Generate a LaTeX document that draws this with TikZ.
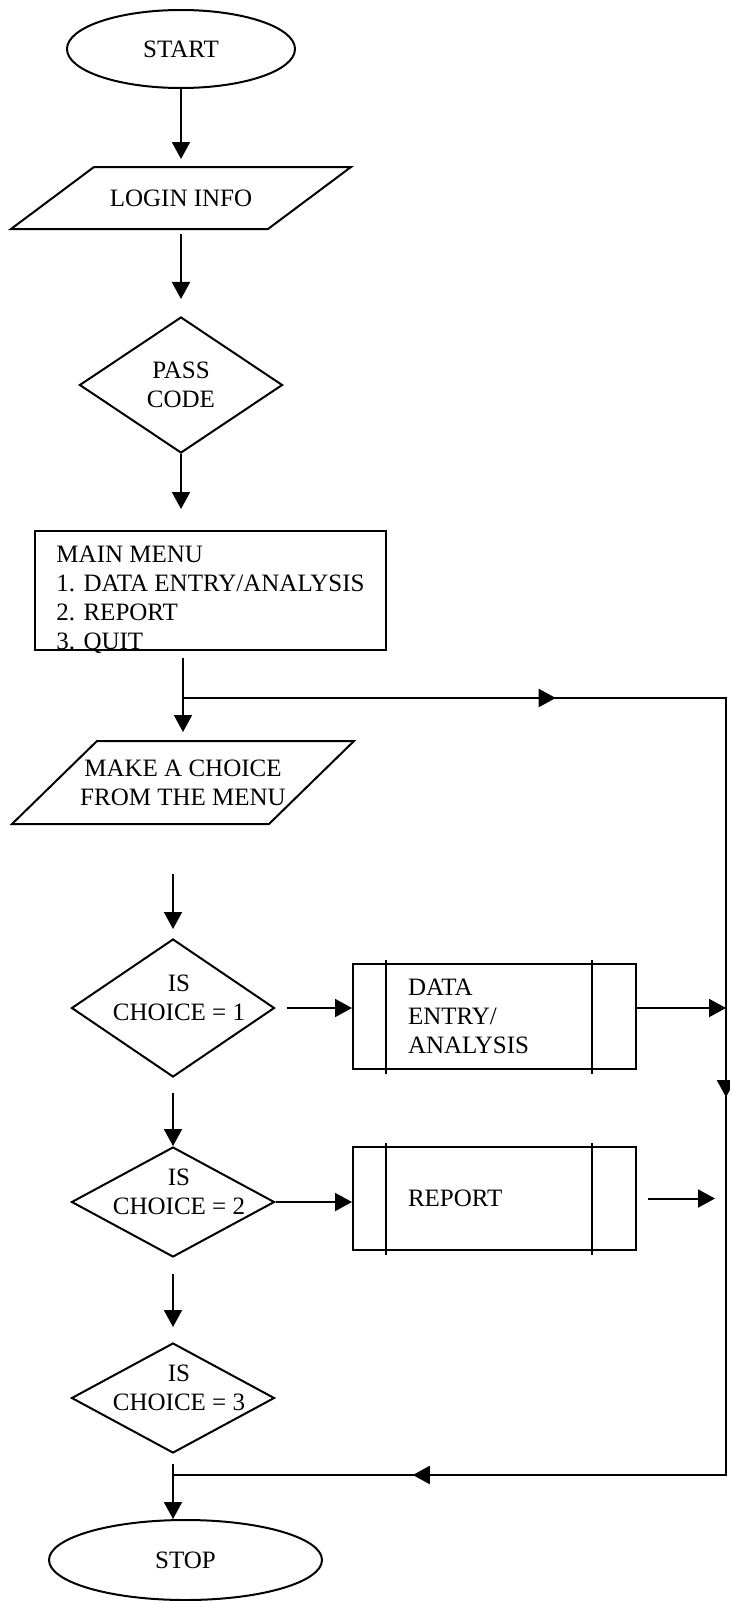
\documentclass[tikz,border=0pt]{standalone}
\usepackage{fontspec}
\setmainfont{Liberation Serif}
\usetikzlibrary{
	arrows.meta,shapes,decorations.markings
}
\tikzset{
	terminal/.style={ellipse,draw,inner sep=0pt},
	inout/.style={rectangle,inner sep=0pt,align=center,minimum width=255pt},
	decision/.style={diamond,draw,inner sep=0pt,align=center,minimum width=203pt},
	qtext/.style={align=center,yshift=10pt,xshift=6pt},
	proc/.style={rectangle,draw,inner sep=0pt},
	subproc/.style={rectangle,draw,align=left,inner xsep=0pt,text width=173pt,minimum width=283pt},
	flow/.style={-{Triangle[width=18pt,length=17pt]}},
	busarrows/.style={postaction={decorate},decoration={markings,
		mark=at position 0.199 with {\arrow{Triangle[width=18pt,length=17pt]}},
		mark=at position 0.503 with {\arrow{Triangle[width=18pt,length=17pt]}},
		mark=at position 0.872 with {\arrow{Triangle[width=18pt,length=17pt]}}}}
}

\begin{document}
\begin{tikzpicture}[x=1pt,y=-1pt,line width=2pt,
	every node/.style={font=\fontsize{25}{29}\selectfont}]
	\useasboundingbox (0,0) rectangle (729,1601);
	% nodes
	\node[terminal,minimum width=228pt,minimum height=78pt] (start) at (181,49) {START};
	\node[inout,minimum height=60pt] (login) at (181,198) {LOGIN INFO};
	\node[decision,minimum height=136pt] (pass) at (181,385) {PASS\\CODE};
	\node[proc,minimum width=351pt,minimum height=119pt,
		label={[align=left,yshift=-9pt]center:MAIN MENU\\1. DATA ENTRY/ANALYSIS\\2. REPORT\\3. QUIT}]
		(menu) at (210.5,590.5) {};
	\node[inout,minimum height=81pt] (choice) at (183,782.5) {MAKE A CHOICE\\FROM THE MENU};
	\node[decision,minimum height=138pt,label={[qtext]center:IS\\CHOICE = 1}] (q1) at (173,1008) {};
	\node[decision,minimum height=110pt,label={[qtext]center:IS\\CHOICE = 2}] (q2) at (173,1202) {};
	\node[decision,minimum height=110pt,label={[qtext]center:IS\\CHOICE = 3}] (q3) at (173,1398) {};
	\node[subproc,minimum height=105pt] (data) at (494.5,1016.5) {DATA\\ENTRY/\\ANALYSIS};
	\node[subproc,minimum height=103pt] (report) at (494.5,1198.5) {REPORT};
	\node[terminal,minimum width=273pt,minimum height=80pt] (stop) at (185.5,1560) {STOP};
	%
	\coordinate (busA) at (183,698);
	\coordinate (busB) at (726,698);
	\coordinate (busC) at (726,1475);
	\coordinate (busD) at (173,1475);
	% slanted outlines of the input boxes
	\foreach \n/\s in {login/41.5,choice/42.5}
		\draw ([xshift=\s pt]\n.north west) -- ([xshift=\s pt]\n.north east)
			-- ([xshift=-\s pt]\n.south east) -- ([xshift=-\s pt]\n.south west) -- cycle;
	% side bars of the sub-process boxes
	\foreach \b in {data,report}{
		\draw ([xshift=34pt,yshift=3pt]\b.north west) -- ([xshift=34pt,yshift=-4pt]\b.south west);
		\draw ([xshift=-45pt,yshift=3pt]\b.north east) -- ([xshift=-45pt,yshift=-4pt]\b.south east);
	}
	%
	\path[flow]
	% vertical arrows
	(start) edge[shorten >=8pt] (login)
	(login) edge[shorten <=5pt,shorten >=17pt] (pass)
	(pass) edge[shorten >=21pt] (pass.south |- menu.north)
	(choice.north |- menu.south) edge[shorten <=7pt,shorten >=9pt] (choice)
	(choice.south -| q1.north) edge[shorten <=50pt,shorten >=9pt] (q1)
	(q1) edge[shorten <=15pt] (q2)
	(q2) edge[shorten <=16pt,shorten >=15pt] (q3)
	(q3) edge[shorten <=10pt] (q3.south |- stop.north)
	% horizontal arrows
	(q1.east) edge[shorten <=11pt] (q1.east -| data.west)
	(q2.east) edge (q2.east -| report.west)
	(data.east |- q1.east) edge (q1.east -| busB)
	(report.east) edge[shorten <=11pt,shorten >=11pt] (report.east -| busB);
	% return line
	\draw[busarrows] (busA) -- (busB) -- (busC) -- (busD);
\end{tikzpicture}
\end{document}
